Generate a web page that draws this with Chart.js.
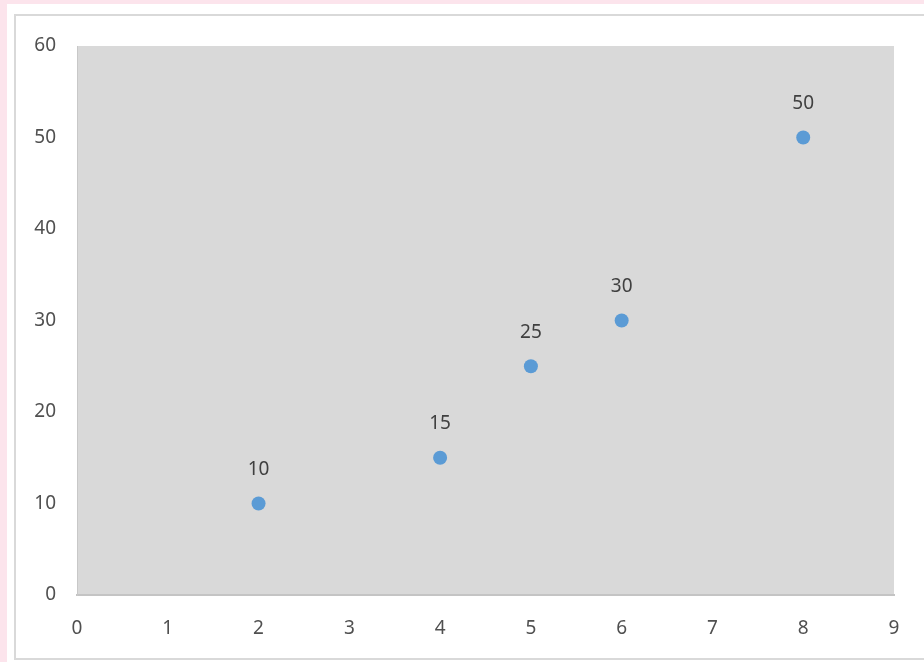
<!DOCTYPE html>
<html>
<head>
<meta charset="utf-8">
<script src="https://cdn.jsdelivr.net/npm/chart.js@4/dist/chart.umd.min.js"></script>
<style>
  html, body { margin: 0; padding: 0; background: #fce4ec; }
  #wrap { width: 924px; height: 662px; position: relative; }
</style>
</head>
<body>
<div id="wrap"><canvas id="chart" width="924" height="662"></canvas></div>
<script>
// Series values
const xValues = [2, 4, 5, 6, 8];
const yValues = [10, 15, 25, 30, 50];
// Axis ranges
const xRange = [0, 9];
const yRange = [0, 60];
const yStep = 10;
const xStep = 1;

const points = xValues.map((x, i) => ({ x: x, y: yValues[i] }));
const fontFamily = '"Noto Sans", "Open Sans", sans-serif';

// Page frame, panel and plot background
const framePlugin = {
  id: 'frame',
  beforeDraw(chart) {
    const ctx = chart.ctx;
    const a = chart.chartArea;
    ctx.save();
    ctx.fillStyle = '#fce4ec';
    ctx.fillRect(0, 0, chart.width, chart.height);
    ctx.fillStyle = '#ffffff';
    ctx.fillRect(7, 4, chart.width, chart.height);
    ctx.strokeStyle = '#d9d9d9';
    ctx.lineWidth = 2;
    ctx.strokeRect(15, 15, chart.width + 10, 644);
    ctx.fillStyle = '#d9d9d9';
    ctx.fillRect(a.left, a.top, a.right - a.left, a.bottom - a.top);
    ctx.restore();
  }
};

// Value labels above each point
const valueLabels = {
  id: 'valueLabels',
  afterDatasetsDraw(chart) {
    const ctx = chart.ctx;
    const meta = chart.getDatasetMeta(0);
    ctx.save();
    ctx.fillStyle = '#404040';
    ctx.font = '19px ' + fontFamily;
    ctx.textAlign = 'center';
    ctx.textBaseline = 'middle';
    meta.data.forEach((el, i) => {
      ctx.fillText(String(yValues[i]), el.x, el.y - 34);
    });
    ctx.restore();
  }
};

new Chart(document.getElementById('chart'), {
  type: 'scatter',
  data: {
    datasets: [{
      data: points,
      backgroundColor: '#5b9bd5',
      borderColor: '#5b9bd5',
      pointRadius: 7,
      pointHoverRadius: 7,
      borderWidth: 0
    }]
  },
  options: {
    responsive: false,
    animation: false,
    events: [],
    layout: { padding: { top: 46, right: 30, left: 0, bottom: 0 } },
    plugins: { legend: { display: false }, tooltip: { enabled: false } },
    scales: {
      x: {
        type: 'linear',
        min: xRange[0], max: xRange[1],
        grid: { display: false, drawTicks: false },
        border: { display: true, color: '#c4c4c4', width: 2 },
        ticks: {
          stepSize: xStep,
          padding: 22,
          color: '#505050',
          font: { family: fontFamily, size: 19 }
        },
        afterFit(scale) { scale.height = 67; }
      },
      y: {
        type: 'linear',
        min: yRange[0], max: yRange[1],
        grid: { display: false, drawTicks: false },
        border: { display: true, color: '#c8c8c8', width: 1 },
        ticks: {
          stepSize: yStep,
          padding: 21,
          color: '#505050',
          font: { family: fontFamily, size: 19 }
        },
        afterFit(scale) { scale.width = 77; }
      }
    }
  },
  plugins: [framePlugin, valueLabels]
});
</script>
</body>
</html>
